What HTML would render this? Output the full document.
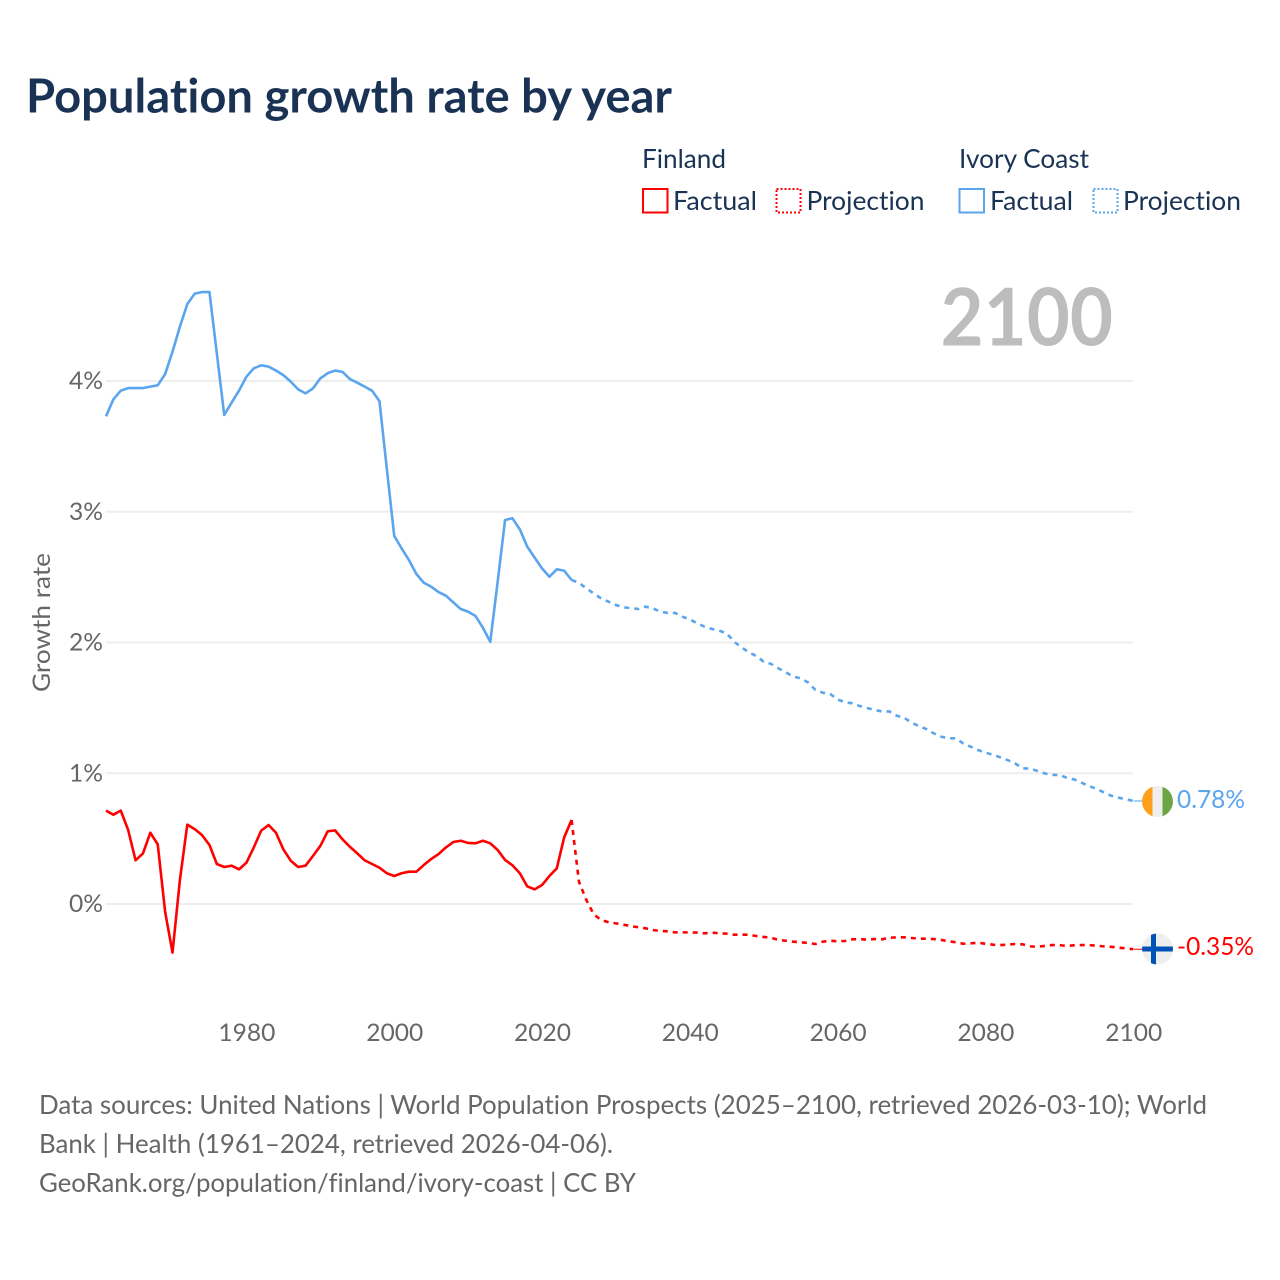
<!DOCTYPE html>
<html lang="en">
<head>
<meta charset="utf-8">
<title>Population growth rate by year</title>
<style>
  html, body { margin: 0; padding: 0; background: #ffffff; }
  body { width: 1280px; height: 1280px; overflow: hidden; }
  svg { display: block; }
  text { font-family: "Lato", "Carlito", "Liberation Sans", sans-serif; font-variant-ligatures: none; }
</style>
</head>
<body>
<svg id="chart" xmlns="http://www.w3.org/2000/svg" width="1280" height="1280" viewBox="0 0 1280 1280">
  <rect x="0" y="0" width="1280" height="1280" fill="#ffffff"/>
  <text x="26" y="112.5" font-size="47" font-weight="700" fill="#1a3355" textLength="646" lengthAdjust="spacingAndGlyphs">Population growth rate by year</text>

  <g>
    <text x="642" y="168" font-size="26" fill="#1a3355" textLength="84" lengthAdjust="spacingAndGlyphs">Finland</text>
    <rect x="643" y="189" width="24.5" height="23.5" fill="none" stroke="#ff0000" stroke-width="2"/>
    <text x="673" y="210" font-size="26" fill="#1a3355" textLength="84" lengthAdjust="spacingAndGlyphs">Factual</text>
    <rect x="776.5" y="189" width="24" height="23.5" fill="none" stroke="#ff0000" stroke-width="2" stroke-dasharray="2 2"/>
    <text x="806.5" y="210" font-size="26" fill="#1a3355" textLength="118" lengthAdjust="spacingAndGlyphs">Projection</text>

    <text x="959" y="168" font-size="26" fill="#1a3355" textLength="130" lengthAdjust="spacingAndGlyphs">Ivory Coast</text>
    <rect x="959.5" y="189" width="24.5" height="23.5" fill="none" stroke="#5aa5ee" stroke-width="2"/>
    <text x="990" y="210" font-size="26" fill="#1a3355" textLength="83" lengthAdjust="spacingAndGlyphs">Factual</text>
    <rect x="1093.5" y="189" width="24" height="23.5" fill="none" stroke="#5aa5ee" stroke-width="2" stroke-dasharray="2 2"/>
    <text x="1123" y="210" font-size="26" fill="#1a3355" textLength="118" lengthAdjust="spacingAndGlyphs">Projection</text>
  </g>

  <g id="grid"></g>
  <g id="yticks"></g>
  <g id="xticks"></g>

  <text x="0" y="0" transform="translate(50,692) rotate(-90)" font-size="24" fill="#666666" textLength="139" lengthAdjust="spacingAndGlyphs">Growth rate</text>
  <text x="940.5" y="345.5" font-size="80" font-weight="700" fill="#bdbdbd" textLength="172.5" lengthAdjust="spacingAndGlyphs">2100</text>

  <g id="series"></g>

  <g>
    <clipPath id="clip-ci"><circle cx="1157.5" cy="801.5" r="15.5"/></clipPath>
    <g clip-path="url(#clip-ci)">
      <rect x="1142" y="786" width="10.5" height="31" fill="#ff9f1c"/>
      <rect x="1152.5" y="786" width="10" height="31" fill="#eeeeee"/>
      <rect x="1162.5" y="786" width="11" height="31" fill="#6da544"/>
    </g>
  </g>
  <g>
    <clipPath id="clip-fi"><circle cx="1157.5" cy="949" r="15.5"/></clipPath>
    <g clip-path="url(#clip-fi)">
      <rect x="1142" y="933" width="31" height="32" fill="#eeeeee"/>
      <rect x="1151" y="933" width="5" height="32" fill="#0052b4"/>
      <rect x="1142" y="946.5" width="31" height="5" fill="#0052b4"/>
    </g>
  </g>

  <text x="1177" y="808" font-size="25" fill="#5aa5ee" textLength="68" lengthAdjust="spacingAndGlyphs">0.78%</text>
  <text x="1177" y="955" font-size="25" fill="#ff0000" textLength="77" lengthAdjust="spacingAndGlyphs">-0.35%</text>

  <g>
    <text x="39" y="1114" font-size="26" fill="#666666" textLength="1168" lengthAdjust="spacingAndGlyphs">Data sources: United Nations | World Population Prospects (2025–2100, retrieved 2026-03-10); World</text>
    <text x="39" y="1153" font-size="26" fill="#666666" textLength="574" lengthAdjust="spacingAndGlyphs">Bank | Health (1961–2024, retrieved 2026-04-06).</text>
    <text x="39" y="1192" font-size="26" fill="#666666" textLength="597" lengthAdjust="spacingAndGlyphs">GeoRank.org/population/finland/ivory-coast | CC BY</text>
  </g>
</svg>

<script>
const firstFactualYear = 1961;
const firstProjectionYear = 2024;
const xTickYears = [1980, 2000, 2020, 2040, 2060, 2080, 2100];
const yTickValues = [0, 1, 2, 3, 4];
const yTickLabels = ["0%", "1%", "2%", "3%", "4%"];

const finlandFactual = [
  0.714, 0.683, 0.714, 0.566, 0.334, 0.387, 0.545, 0.456, -0.059, -0.372,
  0.184, 0.607, 0.573, 0.527, 0.451, 0.306, 0.283, 0.293, 0.265, 0.316,
  0.433, 0.561, 0.604, 0.545, 0.418, 0.331, 0.283, 0.293, 0.367, 0.444,
  0.556, 0.563, 0.495, 0.438, 0.387, 0.334, 0.306, 0.278, 0.235, 0.214,
  0.235, 0.247, 0.247, 0.298, 0.344, 0.382, 0.433, 0.474, 0.484, 0.467,
  0.464, 0.484, 0.464, 0.413, 0.337, 0.296, 0.235, 0.135, 0.112, 0.145,
  0.214, 0.273, 0.510, 0.642
];
const finlandProjection = [
  0.642, 0.170, 0.030, -0.079, -0.122, -0.140, -0.148, -0.158, -0.168, -0.178,
  -0.186, -0.199, -0.206, -0.209, -0.217, -0.217, -0.217, -0.219, -0.224, -0.219,
  -0.224, -0.227, -0.235, -0.235, -0.235, -0.245, -0.252, -0.258, -0.275, -0.281,
  -0.288, -0.293, -0.298, -0.306, -0.288, -0.281, -0.285, -0.283, -0.270, -0.268,
  -0.273, -0.268, -0.270, -0.258, -0.255, -0.255, -0.260, -0.265, -0.265, -0.268,
  -0.275, -0.285, -0.293, -0.304, -0.301, -0.296, -0.304, -0.311, -0.314, -0.311,
  -0.306, -0.308, -0.324, -0.327, -0.321, -0.314, -0.314, -0.321, -0.316, -0.314,
  -0.314, -0.319, -0.324, -0.327, -0.334, -0.339, -0.346
];
const ivoryFactual = [
  3.730, 3.860, 3.926, 3.946, 3.946, 3.946, 3.957, 3.967, 4.053, 4.224,
  4.416, 4.588, 4.668, 4.680, 4.680, 4.210, 3.740, 3.835, 3.926, 4.033,
  4.097, 4.120, 4.110, 4.080, 4.045, 3.995, 3.936, 3.905, 3.943, 4.020,
  4.060, 4.080, 4.070, 4.015, 3.987, 3.957, 3.926, 3.846, 3.330, 2.816,
  2.720, 2.630, 2.524, 2.457, 2.427, 2.386, 2.358, 2.307, 2.256, 2.236,
  2.203, 2.113, 2.006, 2.465, 2.937, 2.950, 2.865, 2.733, 2.649, 2.567,
  2.503, 2.560, 2.549, 2.478
];
const ivoryProjection = [
  2.478, 2.457, 2.414, 2.375, 2.337, 2.312, 2.287, 2.269, 2.264, 2.256,
  2.274, 2.261, 2.236, 2.226, 2.226, 2.197, 2.177, 2.146, 2.121, 2.103,
  2.090, 2.070, 2.006, 1.963, 1.925, 1.897, 1.853, 1.836, 1.802, 1.772,
  1.739, 1.726, 1.695, 1.637, 1.616, 1.606, 1.565, 1.542, 1.535, 1.514,
  1.499, 1.484, 1.473, 1.473, 1.440, 1.425, 1.387, 1.361, 1.338, 1.305,
  1.280, 1.267, 1.267, 1.228, 1.203, 1.178, 1.157, 1.142, 1.122, 1.101,
  1.076, 1.038, 1.035, 1.019, 0.999, 0.987, 0.987, 0.966, 0.953, 0.928,
  0.902, 0.882, 0.854, 0.828, 0.813, 0.802, 0.788
];

const SVG_NS = "http://www.w3.org/2000/svg";
function xScale(year) { return 106 + (year - 1961) * 7.39; }
function yScale(value) { return 904 - value * 130.75; }

function seriesPath(values, startYear) {
  return values.map(function (v, i) {
    return (i ? "L" : "M") + xScale(startYear + i).toFixed(2) + " " + yScale(v).toFixed(2);
  }).join(" ");
}

const gridLayer = document.getElementById("grid");
const yTickLayer = document.getElementById("yticks");
const xTickLayer = document.getElementById("xticks");
const seriesLayer = document.getElementById("series");

yTickValues.forEach(function (value, i) {
  const line = document.createElementNS(SVG_NS, "line");
  
  
  line.setAttribute("x1", 106);
  line.setAttribute("x2", 1133);
  line.setAttribute("y1", yScale(value));
  line.setAttribute("y2", yScale(value));
  line.setAttribute("stroke", "#eeeeee");
  line.setAttribute("stroke-width", "2");
  gridLayer.appendChild(line);

  const label = document.createElementNS(SVG_NS, "text");
  
  
  label.setAttribute("x", 69);
  label.setAttribute("y", yScale(value) + 8);
  label.setAttribute("font-size", "24");
  label.setAttribute("fill", "#666666");
  label.setAttribute("textLength", "34");
  label.setAttribute("lengthAdjust", "spacingAndGlyphs");
  label.textContent = yTickLabels[i];
  yTickLayer.appendChild(label);
});

xTickYears.forEach(function (year) {
  const label = document.createElementNS(SVG_NS, "text");
  
  
  label.setAttribute("x", xScale(year) - 28);
  label.setAttribute("y", 1041);
  label.setAttribute("font-size", "24");
  label.setAttribute("fill", "#666666");
  label.setAttribute("textLength", "57");
  label.setAttribute("lengthAdjust", "spacingAndGlyphs");
  label.textContent = String(year);
  xTickLayer.appendChild(label);
});

function addLine(values, startYear, color, dashed, seriesName) {
  const path = document.createElementNS(SVG_NS, "path");
  
  
  path.setAttribute("d", seriesPath(values, startYear));
  path.setAttribute("fill", "none");
  path.setAttribute("stroke", color);
  path.setAttribute("stroke-width", "2.6");
  path.setAttribute("stroke-linejoin", "round");
  if (dashed) { path.setAttribute("stroke-dasharray", "5 5"); }
  seriesLayer.appendChild(path);
}

function addConnector(values, startYear, color, connectorName) {
  const endValue = values[values.length - 1];
  const endYear = startYear + values.length - 1;
  const line = document.createElementNS(SVG_NS, "line");
  
  
  line.setAttribute("x1", xScale(endYear) + 0.5);
  line.setAttribute("x2", 1142);
  line.setAttribute("y1", yScale(endValue));
  line.setAttribute("y2", yScale(endValue));
  line.setAttribute("stroke", color);
  line.setAttribute("stroke-width", "1");
  seriesLayer.appendChild(line);
}

addLine(ivoryFactual, firstFactualYear, "#5aa5ee", false, "line-ivory-coast-factual");
addLine(ivoryProjection, firstProjectionYear, "#5aa5ee", true, "line-ivory-coast-projection");
addConnector(ivoryProjection, firstProjectionYear, "#5aa5ee", "connector-ivory-coast");
addLine(finlandFactual, firstFactualYear, "#ff0000", false, "line-finland-factual");
addLine(finlandProjection, firstProjectionYear, "#ff0000", true, "line-finland-projection");
addConnector(finlandProjection, firstProjectionYear, "#ff0000", "connector-finland");
</script>
</body>
</html>
